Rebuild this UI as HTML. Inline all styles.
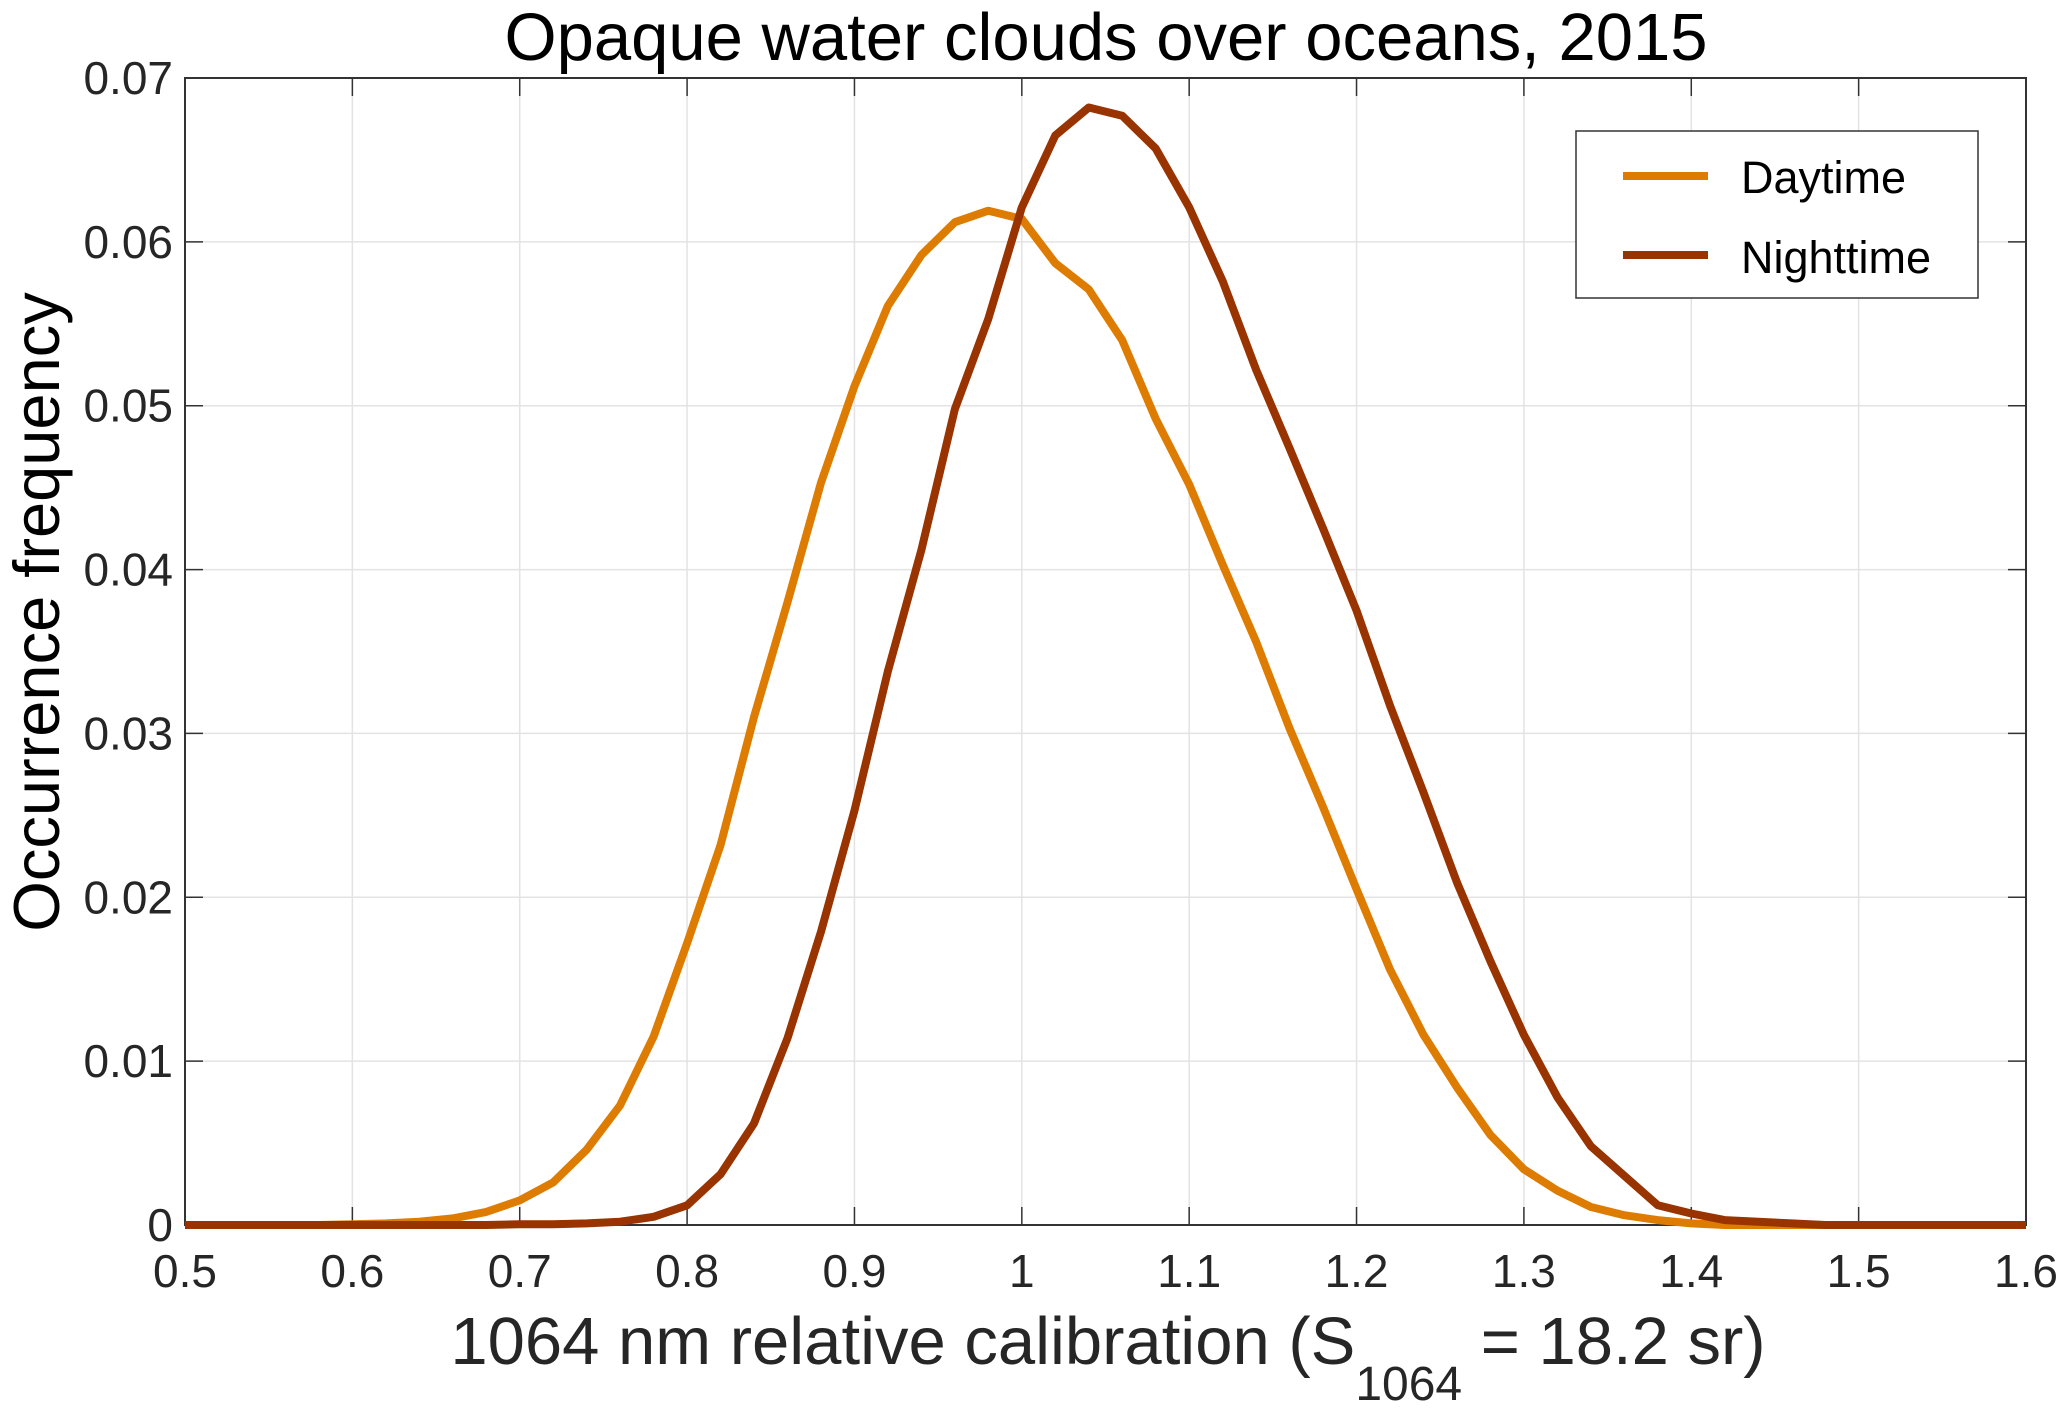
<!DOCTYPE html>
<html><head><meta charset="utf-8"><style>
html,body{margin:0;padding:0;background:#fff}
svg{display:block;font-family:"Liberation Sans",sans-serif}
</style></head><body>
<svg id="chart" width="2067" height="1411" viewBox="0 0 2067 1411">
<text x="1106" y="60" font-size="67" text-anchor="middle" fill="#000">Opaque water clouds over oceans, 2015</text>
<g id="grid"></g>
<g id="axes"></g>
<g id="series"></g>
<text transform="translate(59,612) rotate(-90)" font-size="65" text-anchor="middle" fill="#000">Occurrence frequency</text>
<text x="1108" y="1364" font-size="67" text-anchor="middle" fill="#262626">1064 nm relative calibration (S<tspan font-size="48" dy="36">1064</tspan><tspan dy="-36"> = 18.2 sr)</tspan></text>
<g>
<rect x="1576" y="131" width="402" height="167" fill="#fff" stroke="#333" stroke-width="1.5"/>
<line x1="1623" y1="176" x2="1708" y2="176" stroke="#dd7c00" stroke-width="8"/>
<text x="1741" y="193" font-size="45" fill="#000">Daytime</text>
<line x1="1623" y1="255" x2="1708" y2="255" stroke="#993300" stroke-width="8"/>
<text x="1741" y="273" font-size="45" fill="#000">Nighttime</text>
</g>
</svg>
<script>
const xValues = [0.5,0.52,0.54,0.56,0.58,0.6,0.62,0.64,0.66,0.68,0.7,0.72,0.74,0.76,0.78,0.8,0.82,0.84,0.86,0.88,0.9,0.92,0.94,0.96,0.98,1.0,1.02,1.04,1.06,1.08,1.1,1.12,1.14,1.16,1.18,1.2,1.22,1.24,1.26,1.28,1.3,1.32,1.34,1.36,1.38,1.4,1.42,1.44,1.46,1.48,1.5,1.52,1.54,1.56,1.58,1.6];
const daytime = [0,0,0,0,0,0.00005,0.0001,0.0002,0.0004,0.0008,0.0015,0.0026,0.0046,0.0073,0.0115,0.0172,0.0232,0.031,0.038,0.0453,0.0512,0.0561,0.0592,0.0612,0.0619,0.0614,0.0587,0.0571,0.054,0.0492,0.0452,0.0403,0.0356,0.0303,0.0255,0.0205,0.0156,0.0116,0.0084,0.0055,0.0034,0.0021,0.0011,0.0006,0.0003,0.0001,0,0,0,0,0,0,0,0,0,0];
const nighttime = [0,0,0,0,0,0,0,0,0,0,0.00005,0.00005,0.0001,0.0002,0.0005,0.0012,0.0031,0.0062,0.0114,0.0179,0.0253,0.0338,0.0412,0.0498,0.0553,0.0621,0.0665,0.0682,0.0677,0.0657,0.0621,0.0576,0.0522,0.0474,0.0425,0.0375,0.0317,0.0264,0.0209,0.0161,0.0116,0.0078,0.0048,0.003,0.0012,0.0007,0.0003,0.0002,0.0001,0,0,0,0,0,0,0];
const xTicks = [0.5,0.6,0.7,0.8,0.9,1,1.1,1.2,1.3,1.4,1.5,1.6];
const xTickLabels = ["0.5","0.6","0.7","0.8","0.9","1","1.1","1.2","1.3","1.4","1.5","1.6"];
const yTicks = [0,0.01,0.02,0.03,0.04,0.05,0.06,0.07];
const yTickLabels = ["0","0.01","0.02","0.03","0.04","0.05","0.06","0.07"];

const L=185,R=2026,T=78,B=1225;
const NS="http://www.w3.org/2000/svg";
function sx(v){return L+(v-0.5)/1.1*(R-L);}
function sy(v){return B-v/0.07*(B-T);}
function mk(tag,attrs,parent){const e=document.createElementNS(NS,tag);for(const k in attrs)e.setAttribute(k,attrs[k]);parent.appendChild(e);return e;}
const grid=document.getElementById('grid'),axes=document.getElementById('axes'),series=document.getElementById('series');
xTicks.forEach((t,i)=>{
  const x=sx(t);
  const g=mk('line',{x1:x,y1:T,x2:x,y2:B,stroke:'#e3e3e3','stroke-width':1.5},grid);
  
  
  const t1=mk('line',{x1:x,y1:B,x2:x,y2:B-18,stroke:'#333','stroke-width':1.5},axes);
  
  
  const t2=mk('line',{x1:x,y1:T,x2:x,y2:T+18,stroke:'#333','stroke-width':1.5},axes);
  
  
  const lb=mk('text',{x:x,y:1287,'font-size':46,'text-anchor':'middle',fill:'#262626'},axes);
  lb.textContent=xTickLabels[i];
  
  
});
yTicks.forEach((t,i)=>{
  const y=sy(t);
  const g=mk('line',{x1:L,y1:y,x2:R,y2:y,stroke:'#e3e3e3','stroke-width':1.5},grid);
  
  
  const t1=mk('line',{x1:L,y1:y,x2:L+18,y2:y,stroke:'#333','stroke-width':1.5},axes);
  
  
  const t2=mk('line',{x1:R,y1:y,x2:R-18,y2:y,stroke:'#333','stroke-width':1.5},axes);
  
  
  const lb=mk('text',{x:L-12,y:y+16,'font-size':46,'text-anchor':'end',fill:'#262626'},axes);
  lb.textContent=yTickLabels[i];
  
  
});
const box=mk('rect',{x:L,y:T,width:R-L,height:B-T,fill:'none',stroke:'#333','stroke-width':2},axes);


function line(vals,color,name){
  const pts=xValues.map((x,i)=>sx(x).toFixed(1)+','+sy(vals[i]).toFixed(1)).join(' ');
  const p=mk('polyline',{points:pts,fill:'none',stroke:color,'stroke-width':8,'stroke-linejoin':'round'},series);
  
  
}
line(daytime,'#dd7c00','daytime-line');
line(nighttime,'#993300','nighttime-line');
</script>
</body></html>
